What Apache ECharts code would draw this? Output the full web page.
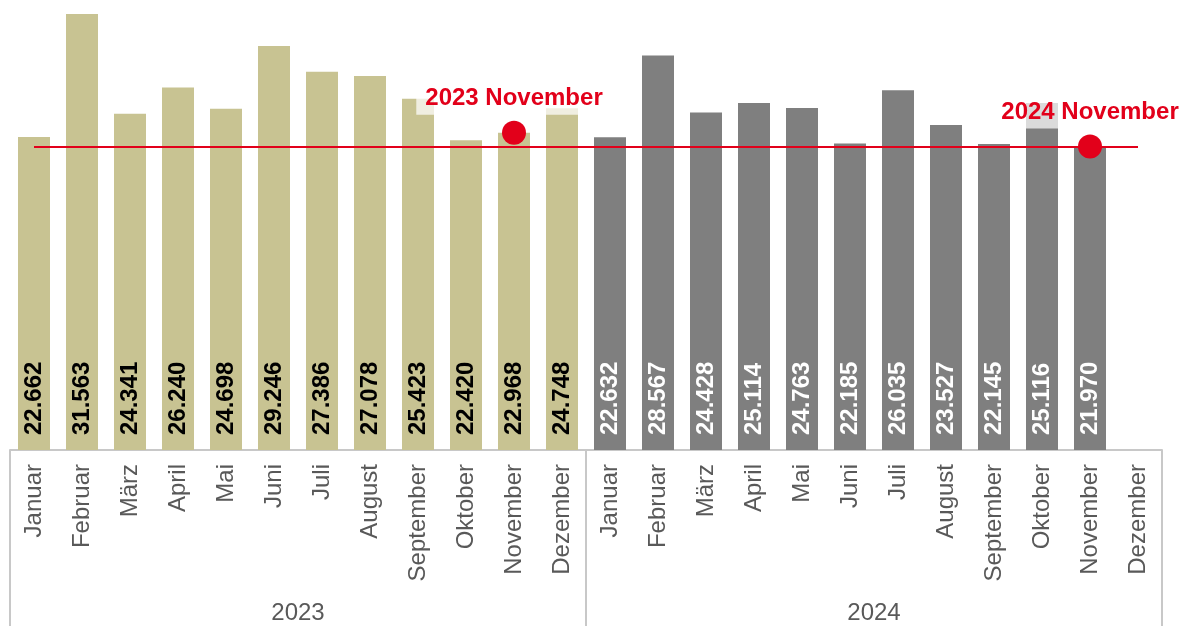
<!DOCTYPE html>
<html>
<head>
<meta charset="utf-8">
<script src="https://cdn.jsdelivr.net/npm/echarts@6/dist/echarts.min.js"></script>
<style>
  html, body { margin: 0; padding: 0; background: #fff; }
  #myChart { width: 1187px; height: 626px; }
</style>
</head>
<body>
<div id="myChart"></div>
<script>
var months = ['Januar', 'Februar', 'März', 'April', 'Mai', 'Juni', 'Juli', 'August', 'September', 'Oktober', 'November', 'Dezember']
var years = ['2023', '2024']
var values2023 = [22.662, 31.563, 24.341, 26.240, 24.698, 29.246, 27.386, 27.078, 25.423, 22.420, 22.968, 24.748]
var values2024 = [22.632, 28.567, 24.428, 25.114, 24.763, 22.185, 26.035, 23.527, 22.145, 25.116, 21.970, null]
var refValue = 21.970

var categories = months.map(function (m) { return '2023 ' + m }).concat(months.map(function (m) { return '2024 ' + m }))
var allValues = values2023.concat(values2024)

var chartDom = document.getElementById('myChart')
var myChart = echarts.init(chartDom)
var red = '#e2001a'
var font = 'Liberation Sans, Arial, sans-serif'

var option = {
  animation: false,
  grid: { left: 10, right: 25, top: 14, bottom: 176 },
  xAxis: [
    {
      type: 'category',
      data: categories,
      position: 'bottom',
      axisLine: { lineStyle: { color: '#c8c8c8', width: 2 } },
      axisTick: { show: false },
      axisLabel: {
        rotate: 90,
        interval: 0,
        margin: 14,
        color: '#595959',
        fontSize: 24,
        fontFamily: font,
        formatter: function (v) { return v.split(' ')[1] }
      }
    },
    {
      type: 'category',
      data: years,
      position: 'bottom',
      offset: 176,
      axisLine: { show: false },
      axisTick: { show: true, inside: true, length: 176, lineStyle: { color: '#c8c8c8', width: 2 } },
      axisLabel: { inside: true, margin: 1, color: '#595959', fontSize: 24, fontFamily: font }
    }
  ],
  yAxis: {
    type: 'value',
    min: 0,
    max: 31.563,
    show: false,
    splitLine: { show: false }
  },
  series: [
    {
      type: 'bar',
      barWidth: 32,
      data: allValues.map(function (v, i) {
        var is23 = i < 12
        return {
          value: v,
          itemStyle: { color: is23 ? '#c8c392' : '#7f7f7f' },
          label: { color: is23 ? '#000' : '#fff' }
        }
      }),
      label: {
        show: true,
        position: 'insideBottom',
        rotate: 90,
        align: 'left',
        verticalAlign: 'middle',
        distance: 15,
        fontSize: 24,
        fontWeight: 'bold',
        fontFamily: font,
        formatter: function (p) { return p.value == null ? '' : p.value.toFixed(3) }
      },
      markLine: {
        silent: true,
        symbol: 'none',
        label: { show: false },
        lineStyle: { color: red, width: 2, type: 'solid' },
        data: [[
          { coord: [categories[0], refValue] },
          { coord: [categories[23], refValue] }
        ]]
      },
      markPoint: {
        symbol: 'circle',
        symbolSize: 24,
        itemStyle: { color: red },
        label: {
          show: true,
          position: 'top',
          distance: 6,
          color: red,
          fontSize: 24,
          fontWeight: 'bold',
          fontFamily: font,
          backgroundColor: 'rgba(255,255,255,0.72)',
          padding: [8, 9, 4, 9],
          formatter: function (p) { return p.name }
        },
        data: [
          { name: '2023 November', coord: [categories[10], values2023[10]] },
          { name: '2024 November', coord: [categories[22], values2024[10]] }
        ]
      }
    }
  ]
}
myChart.setOption(option)
</script>
</body>
</html>
